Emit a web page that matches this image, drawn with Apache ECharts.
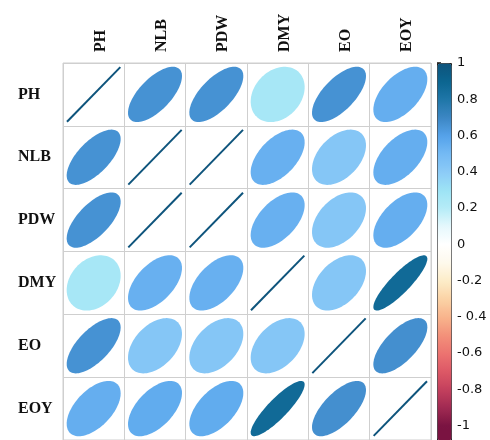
<!DOCTYPE html>
<html>
<head>
<meta charset="utf-8">
<script src="https://cdn.jsdelivr.net/npm/echarts@6/dist/echarts.min.js"></script>
<style>
html,body{margin:0;padding:0;background:#fff;}
#chart{width:490px;height:440px;}
</style>
</head>
<body>
<div id="chart"></div>
<script>
// ---- data ----
const categories = ['PH', 'NLB', 'PDW', 'DMY', 'EO', 'EOY'];
const rowPH  = [1.00, 0.66, 0.66, 0.26, 0.66, 0.55];
const rowNLB = [0.66, 1.00, 1.00, 0.54, 0.43, 0.55];
const rowPDW = [0.66, 1.00, 1.00, 0.54, 0.43, 0.55];
const rowDMY = [0.26, 0.54, 0.54, 1.00, 0.43, 0.87];
const rowEO  = [0.66, 0.43, 0.43, 0.43, 1.00, 0.67];
const rowEOY = [0.55, 0.56, 0.56, 0.87, 0.67, 1.00];
const colorbarTicks  = [1, 0.8, 0.6, 0.4, 0.2, 0, -0.2, -0.4, -0.6, -0.8, -1];
const colorbarLabels = ['1', '0.8', '0.6', '0.4', '0.2', '0', '-0.2', '- 0.4', '-0.6', '-0.8', '-1'];

const rows = [rowPH, rowNLB, rowPDW, rowDMY, rowEO, rowEOY];
const cells = [];
rows.forEach(function (row, i) {
  row.forEach(function (v, j) { cells.push([j, i, v]); });
});

// ---- palette (evenly spaced stops from -1 to 1, step 0.1) ----
const paletteStops = ['#7a1341','#a02a52','#c4405d','#dc5866','#ec7370','#f3917a','#f8b48c','#fbd3a6','#fdecc8','#fef9ec','#ffffff','#e6f8fc','#b5ecf7','#9de3f5','#8ccbf7','#74baf4','#55a2ea','#3c87c4','#1f76a8','#0b6590','#0e547c'];
const barMin = -1.08, barMax = 1;
const sampled = [];
const N = 208;
for (let k = 0; k <= N; k++) {
  const v = barMin + (barMax - barMin) * k / N;
  const ratio = Math.min(1, Math.max(0, (v + 1) / 2));
  sampled.push(echarts.color.lerp(ratio, paletteStops));
}

const chart = echarts.init(document.getElementById('chart'), null, {renderer: 'canvas'});
const labelFont = {fontFamily: 'Liberation Serif', fontWeight: 'bold', fontSize: 16, color: '#111'};

chart.setOption({
  backgroundColor: '#ffffff',
  animation: false,
  grid: [
    {left: 63, top: 63, width: 368, height: 378, show: true, borderColor: '#cfcfcf', borderWidth: 1, containLabel: false},
    {left: 437, top: 63, width: 14, height: 377, show: false}
  ],
  xAxis: [
    {
      type: 'category', data: categories, position: 'top', gridIndex: 0,
      axisLine: {show: false}, axisTick: {show: false},
      splitLine: {show: true, interval: 0, lineStyle: {color: '#cfcfcf', width: 1}},
      axisLabel: Object.assign({rotate: -90, margin: 11, interval: 0, verticalAlign: 'top', lineHeight: 14}, labelFont)
    },
    {type: 'value', gridIndex: 1, show: false, min: 0, max: 1}
  ],
  yAxis: [
    {
      type: 'category', data: categories, inverse: true, gridIndex: 0,
      axisLine: {show: false}, axisTick: {show: false},
      splitLine: {show: true, interval: 0, lineStyle: {color: '#cfcfcf', width: 1}},
      axisLabel: Object.assign({align: 'left', margin: 45, interval: 0}, labelFont)
    },
    {
      type: 'value', gridIndex: 1, position: 'right', min: barMin, max: barMax,
      axisLine: {show: false},
      splitLine: {show: false},
      axisTick: {show: true, length: 4, customValues: colorbarTicks, lineStyle: {color: '#111', width: 1.5}},
      axisLabel: {
        customValues: colorbarTicks, margin: 6, color: '#111',
        fontFamily: 'DejaVu Sans', fontSize: 13,
        formatter: function (v) {
          for (let i = 0; i < colorbarTicks.length; i++) {
            if (Math.abs(colorbarTicks[i] - v) < 1e-6) return colorbarLabels[i];
          }
          return '';
        }
      }
    }
  ],
  visualMap: {
    type: 'continuous', min: barMin, max: barMax, dimension: 2, seriesIndex: 0,
    calculable: false, show: true, left: 437, top: 63, itemWidth: 14, itemHeight: 377,
    padding: 0, borderColor: '#222', borderWidth: 1, text: null,
    inRange: {color: sampled}, hoverLink: false
  },
  series: [{
    type: 'custom', xAxisIndex: 0, yAxisIndex: 0, data: cells,
    renderItem: function (params, api) {
      const r = api.value(2);
      const c = api.coord([api.value(0), api.value(1)]);
      const s = api.size([1, 1]);
      const color = api.visual('color');
      if (r >= 0.999) {
        const lx = s[0] * 0.435, ly = s[1] * 0.435;
        return {type: 'line', shape: {x1: c[0] - lx, y1: c[1] + ly, x2: c[0] + lx, y2: c[1] - ly},
                style: {stroke: color, lineWidth: 2}};
      }
      const sx = s[0] * 0.44, sy = s[1] * 0.44;
      const d = Math.acos(r);
      const pts = [];
      for (let k = 0; k < 90; k++) {
        const t = k / 90 * 2 * Math.PI;
        pts.push([c[0] + sx * Math.cos(t + d / 2), c[1] - sy * Math.cos(t - d / 2)]);
      }
      return {type: 'polygon', shape: {points: pts}, style: {fill: color}};
    }
  }]
});
</script>
</body>
</html>
